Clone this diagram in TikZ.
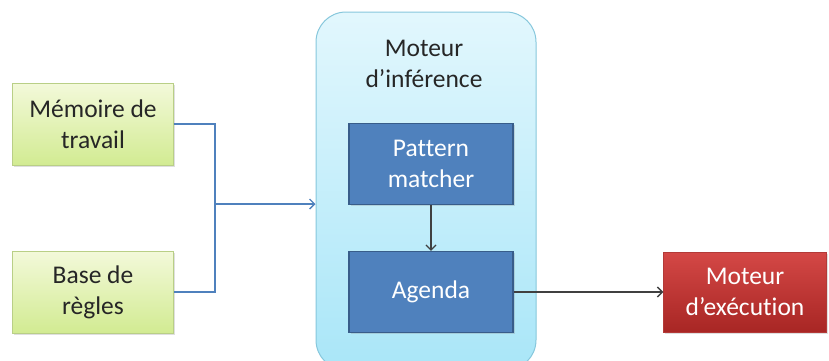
\documentclass[tikz,border=0pt]{standalone}
\usepackage{fontspec}
\setmainfont{Carlito}[Ligatures=NoCommon]
\usetikzlibrary{arrows.meta,shadows}

\definecolor{verthaut}{HTML}{F3F9DA}
\definecolor{vertbas}{HTML}{D2EB92}
\definecolor{vertbord}{HTML}{B9CF86}
\definecolor{cielhaut}{HTML}{E2F7FD}
\definecolor{cielbas}{HTML}{A9E6F8}
\definecolor{cielbord}{HTML}{86C7DC}
\definecolor{bleufond}{HTML}{4F81BD}
\definecolor{bleubord}{HTML}{385D8A}
\definecolor{rougehaut}{HTML}{D44846}
\definecolor{rougebas}{HTML}{A82624}
\definecolor{rougebord}{HTML}{B33A38}
\definecolor{texte}{HTML}{262626}

\begin{document}
\begin{tikzpicture}[x=1pt,y=-1pt,
  font=\fontsize{25.5}{31}\selectfont, text=texte,
  ombre/.style={drop shadow={opacity=0.25,shadow xshift=1.5pt,shadow yshift=-1.5pt}},
  entree/.style={draw=vertbord, top color=verthaut, bottom color=vertbas, ombre,
    minimum width=161pt, minimum height=82pt, align=center, inner sep=0pt},
  interne/.style={draw=bleubord, line width=1.2pt, fill=bleufond, text=white, ombre,
    minimum width=164pt, minimum height=81pt, align=center, inner sep=0pt},
  sortie/.style={draw=rougebord, top color=rougehaut, bottom color=rougebas, text=white, ombre,
    minimum width=163pt, minimum height=80pt, align=center, inner sep=0pt},
  lien/.style={draw=bleufond, line width=1.3pt},
  fleche/.style={-{Straight Barb[length=5pt,width=10pt]}, draw=black!75, line width=1.3pt}]
  \useasboundingbox (0,0) rectangle (829,360);

  % moteur d'inference (bloc central)
  \node (moteur) [draw=cielbord, line width=1pt, top color=cielhaut, bottom color=cielbas,
    rounded corners=30pt, minimum width=220pt, minimum height=358pt] at (426,191) {};
  \node (titre) [align=center] at (424,64) {Moteur\\d’inférence};
  \node (pattern) [interne] at (431,164) {Pattern\\matcher};
  \node (agenda) [interne] at (431,292) {Agenda};

  % entrees
  \node (memoire) [entree] at (93,124) {Mémoire de\\travail};
  \node (base) [entree] at (93,292) {Base de\\règles};

  % sortie
  \node (execution) [sortie] at (745,292) {Moteur\\d’exécution};

  \coordinate (jonction) at (215,204);

  \draw[lien] (memoire.east) -| (jonction) |- (base.east);
  \draw[lien,-{Straight Barb[length=5pt,width=10pt]}] (jonction) -- (jonction -| moteur.west);
  \draw[fleche] (pattern) -- (agenda);
  \draw[fleche] (agenda) -- (execution);
\end{tikzpicture}
\end{document}
